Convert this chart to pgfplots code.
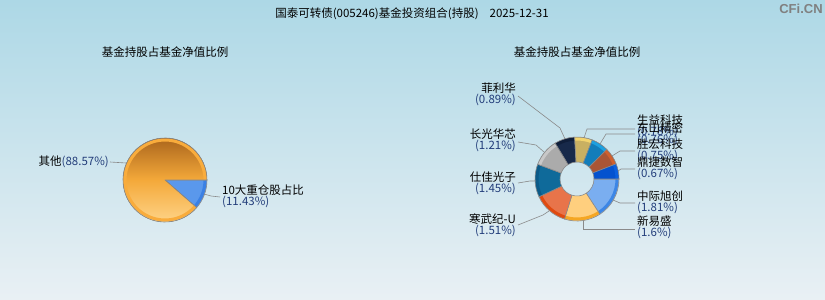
\documentclass[border=0pt]{standalone}
\usepackage{pgfplots}
\usepackage{pgfplotstable}
\pgfplotsset{compat=1.18}
\usepackage{fontspec}
\setmainfont{Noto Sans CJK SC}
\newfontfamily\wm{Liberation Sans}
\definecolor{pctc}{HTML}{223D7A}
\definecolor{lead}{HTML}{8A8A8A}
\tikzset{
 pO/.style={top color=orange!60!black!90, bottom color={rgb,255:red,255;green,216;blue,144}, middle color={rgb,255:red,244;green,169;blue,58}},
 pOr/.style={color={rgb,255:red,249;green,172;blue,60}},
 pB/.style={fill={rgb,255:red,90;green,152;blue,236}},
 pBr/.style={color={rgb,255:red,58;green,128;blue,228}},
 d1/.style={fill={rgb,255:red,122;green,174;blue,240}}, d1r/.style={color={rgb,255:red,60;green,134;blue,230}},
 d2/.style={fill={rgb,255:red,255;green,207;blue,126}}, d2r/.style={color={rgb,255:red,245;green,166;blue,35}},
 d3/.style={fill={rgb,255:red,232;green,116;blue,74}}, d3r/.style={color={rgb,255:red,224;green,74;blue,16}},
 d4/.style={fill={rgb,255:red,15;green,106;blue,154}}, d4r/.style={color={rgb,255:red,11;green,90;blue,136}},
 d5/.style={fill={rgb,255:red,171;green,171;blue,171}}, d5r/.style={color={rgb,255:red,200;green,200;blue,200}},
 d6/.style={fill={rgb,255:red,23;green,41;blue,74}}, d6r/.style={color={rgb,255:red,15;green,30;blue,58}},
 d7/.style={fill={rgb,255:red,201;green,176;blue,98}}, d7r/.style={color={rgb,255:red,243;green,212;blue,110}},
 d8/.style={fill={rgb,255:red,19;green,125;blue,186}}, d8r/.style={color={rgb,255:red,30;green,160;blue,224}},
 d9/.style={fill={rgb,255:red,170;green,85;blue,53}}, d9r/.style={color={rgb,255:red,208;green,96;blue,46}},
 d10/.style={fill={rgb,255:red,4;green,82;blue,207}}, d10r/.style={color={rgb,255:red,10;green,96;blue,224}},
}
% left pie: share of top-10 holdings
\pgfplotstableread{
val sty rim
11.43 pB pBr
88.57 pO pOr
}\pieL
% right donut: top-10 holdings (% of NAV)
\pgfplotstableread{
val sty rim
1.81 d1 d1r
1.60 d2 d2r
1.51 d3 d3r
1.45 d4 d4r
1.21 d5 d5r
0.89 d6 d6r
0.78 d7 d7r
0.76 d8 d8r
0.75 d9 d9r
0.67 d10 d10r
}\donut
\newcommand\lf{\fontsize{11.5}{12}\selectfont}
% slices: #1 table, #2 cx, #3 cy, #4 outer radius, #5 inner radius
\newcommand\slices[5]{%
 \pgfplotstablegetrowsof{#1}%
 \pgfmathtruncatemacro\N{\pgfplotsretval-1}%
 \def\tot{0}%
 \pgfplotsforeachungrouped \i in {0,...,\N}{%
  \pgfplotstablegetelem{\i}{val}\of#1%
  \pgfmathsetmacro\tot{\tot+\pgfplotsretval}}%
 \def\cum{0}%
 \pgfplotsforeachungrouped \i in {0,...,\N}{%
  \pgfplotstablegetelem{\i}{val}\of#1\let\v\pgfplotsretval
  \pgfplotstablegetelem{\i}{sty}\of#1\let\fc\pgfplotsretval
  \pgfplotstablegetelem{\i}{rim}\of#1\let\rc\pgfplotsretval
  \pgfmathsetmacro\a{-\cum/\tot*360}%
  \pgfmathsetmacro\cum{\cum+\v}%
  \pgfmathsetmacro\b{-\cum/\tot*360}%
  \pgfmathsetmacro\rr{#4-2}%
  \edef\temp{%
   \noexpand\fill[\fc] ([shift={(axis cs:#2,#3)}]\a:#4pt) arc[start angle=\a,end angle=\b,radius=#4pt] -- ([shift={(axis cs:#2,#3)}]\b:#5pt) \ifdim#5pt>0pt arc[start angle=\b,end angle=\a,radius=#5pt]\fi -- cycle;
   \noexpand\draw[\rc, line width=3pt] ([shift={(axis cs:#2,#3)}]\a:\rr pt) arc[start angle=\a,end angle=\b,radius=\rr pt];
   \noexpand\draw[lead, line width=0.6pt, line join=round] ([shift={(axis cs:#2,#3)}]\a:#4pt) arc[start angle=\a,end angle=\b,radius=#4pt] -- ([shift={(axis cs:#2,#3)}]\b:#5pt) \ifdim#5pt>0pt arc[start angle=\b,end angle=\a,radius=#5pt]\fi -- cycle;
  }\temp}%
}
\newcommand\lblL[4]{% right aligned: x, y, name, pct
 \node[anchor=east, inner sep=0pt, font=\lf] at (axis cs:#1,#2) {#3};
 \node[anchor=east, inner sep=0pt, font=\lf, text=pctc] at (axis cs:#1,#2-11.5) {(#4\%)};}
\newcommand\lblR[4]{% left aligned
 \node[anchor=west, inner sep=0pt, font=\lf] at (axis cs:#1,#2) {#3};
 \node[anchor=west, inner sep=0pt, font=\lf, text=pctc] at (axis cs:#1,#2-11.5) {(#4\%)};}
\begin{document}
\begin{tikzpicture}
\begin{axis}[x=1pt, y=1pt, xmin=0, xmax=825, ymin=0, ymax=300, hide axis, clip=false, anchor=origin]
\fill[top color={rgb,255:red,173;green,216;blue,230}, bottom color={rgb,255:red,233;green,240;blue,244}] (axis cs:0,0) rectangle (axis cs:825,300);
\node[font=\fontsize{11.5}{12}\selectfont, inner sep=0pt] at (axis cs:412,286) {国泰可转债(005246)基金投资组合(持股)\hspace{11pt}2025-12-31};
\node[font=\wm\fontsize{13}{13}\selectfont\bfseries, text={rgb,255:red,128;green,128;blue,128}, inner sep=0pt] at (axis cs:801,291) {CFi.CN};
\node[font=\fontsize{11.5}{12}\selectfont, inner sep=0pt] at (axis cs:165,248) {基金持股占基金净值比例};
\node[font=\fontsize{11.5}{12}\selectfont, inner sep=0pt] at (axis cs:577,248) {基金持股占基金净值比例};
% left pie
\slices{\pieL}{165}{120}{42}{0}
\addplot[lead, line width=0.6pt] coordinates {(110,138) (126,137)};
\addplot[lead, line width=0.6pt] coordinates {(204,106) (211,104) (220,103)};
\node[anchor=east, inner sep=0pt, font=\lf] at (axis cs:109,138) {其他\textcolor{pctc}{(88.57\%)}};
\lblR{222}{110}{10大重仓股占比}{11.43}
% donut
\slices{\donut}{577}{121}{42}{17}
\addplot[lead, line width=0.6pt] coordinates {(518,204) (560,172) (565,161)};
\addplot[lead, line width=0.6pt] coordinates {(518,158) (536,155) (544,148)};
\addplot[lead, line width=0.6pt] coordinates {(518,117) (530,119) (536,119)};
\addplot[lead, line width=0.6pt] coordinates {(518,75) (543,85) (549,89)};
\addplot[lead, line width=0.6pt] coordinates {(583,79) (583,71) (635,71)};
\addplot[lead, line width=0.6pt] coordinates {(613,100) (620,97) (635,97)};
\addplot[lead, line width=0.6pt] coordinates {(618,129) (621,131) (635,131)};
\addplot[lead, line width=0.6pt] coordinates {(612,144) (620,149) (635,149)};
\addplot[lead, line width=0.6pt] coordinates {(600,156) (606,166) (635,166)};
\addplot[lead, line width=0.6pt] coordinates {(584,162) (587,171) (635,171)};
\lblL{516}{212}{菲利华}{0.89}
\lblL{516}{166}{长光华芯}{1.21}
\lblL{516}{123}{仕佳光子}{1.45}
\lblL{516}{81}{寒武纪-U}{1.51}
\lblR{637}{180}{生益科技}{0.78}
\lblR{637}{172}{东山精密}{0.76}
\lblR{637}{156}{胜宏科技}{0.75}
\lblR{637}{138}{鼎捷数智}{0.67}
\lblR{637}{104}{中际旭创}{1.81}
\lblR{637}{79}{新易盛}{1.6}
\end{axis}
\end{tikzpicture}
\end{document}
